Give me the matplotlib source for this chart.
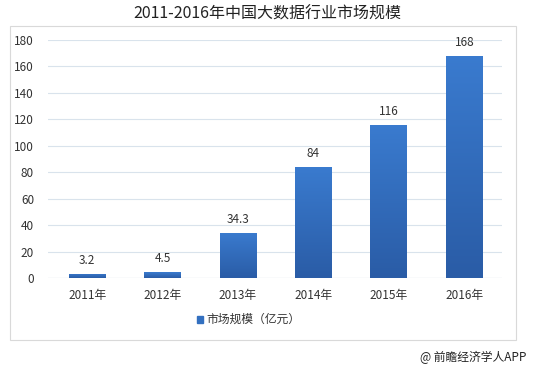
import matplotlib.pyplot as plt
from matplotlib.patches import Rectangle
from matplotlib.colors import LinearSegmentedColormap
import numpy as np

plt.rcParams['font.family'] = ['Noto Sans CJK SC', 'DejaVu Sans']

# data
years = ["2011年", "2012年", "2013年", "2014年", "2015年", "2016年"]
market_size = [3.2, 4.5, 34.3, 84, 116, 168]
value_labels = ["3.2", "4.5", "34.3", "84", "116", "168"]
y_ticks = [0, 20, 40, 60, 80, 100, 120, 140, 160, 180]

fig = plt.figure(figsize=(5.35, 3.72), dpi=100)

# outer chart frame
fig.patches.append(Rectangle((10 / 535, 1 - 340 / 372), 506 / 535, 314 / 372,
                             transform=fig.transFigure, fill=False,
                             edgecolor="#d9d9d9", linewidth=0.8))

fig.text(0.5, 1 - 14 / 372, "2011-2016年中国大数据行业市场规模",
         ha="center", va="center", fontsize=11.5, color="#222222")

ax = fig.add_axes([48 / 535, 1 - 278 / 372, 454 / 535, 238 / 372])
x = np.arange(len(years))
bars = ax.bar(x, market_size, width=0.49, color="#3370c0", zorder=3)

# vertical gradient on the bars
grad = np.linspace(0, 1, 256).reshape(-1, 1)
cmap = LinearSegmentedColormap.from_list("b", ["#2a5ca6", "#3a7bcf"])
for b in bars:
    bx, by = b.get_x(), b.get_y()
    w, h = b.get_width(), b.get_height()
    im = ax.imshow(grad, cmap=cmap, aspect="auto", origin="lower",
                   extent=[bx, bx + w, by, by + h], zorder=3)
    im.set_clip_path(b)

for xi, v, lab in zip(x, market_size, value_labels):
    ax.text(xi, v + 5, lab, ha="center", va="bottom", fontsize=8.5, color="#333333")

ax.set_xlim(-0.52, 5.5)
ax.set_ylim(0, 180)
ax.set_yticks(y_ticks)
ax.set_xticks(x)
ax.set_xticklabels(years)
ax.tick_params(axis="both", length=0, labelsize=8.5, colors="#333333")
ax.tick_params(axis="x", pad=8)
ax.tick_params(axis="y", pad=10)
ax.grid(axis="y", color="#d9e3ec", linewidth=0.8, zorder=0)
for s in ax.spines.values():
    s.set_visible(False)
ax.axhline(0, color="#c8d3de", linewidth=0.8, zorder=2)

# legend
fig.patches.append(Rectangle((197 / 535, 1 - 323 / 372), 6 / 535, 7 / 372,
                             transform=fig.transFigure, color="#3370c0"))
fig.text(206 / 535, 1 - 319 / 372, "市场规模（亿元）", ha="left", va="center",
         fontsize=8.5, color="#333333")

fig.text(526 / 535, 1 - 357 / 372, "@ 前瞻经济学人APP", ha="right", va="center",
         fontsize=8.5, color="#222222")

fig.savefig("out.png", dpi=100)
